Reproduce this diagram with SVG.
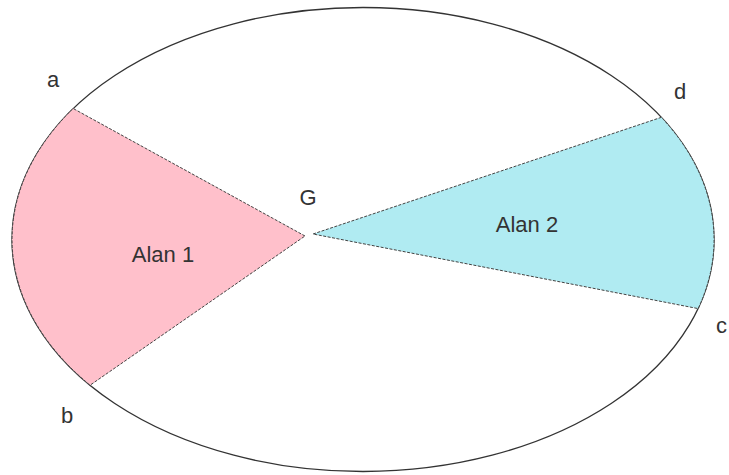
<svg xmlns="http://www.w3.org/2000/svg" width="729" height="475" viewBox="0 0 729 475">
<style>
text{font-family:"Liberation Sans",Arial,sans-serif;font-size:22px;fill:#333}
.w{stroke:#444;stroke-width:1;stroke-dasharray:3 1.5}
</style>
<rect width="729" height="475" fill="#fff"/>
<g id="ellipse">
<ellipse cx="363" cy="239.5" rx="351" ry="232" fill="none" stroke="#333" stroke-width="1.3"/>
</g>
<g id="alan1">
<path class="w" d="M305,236 L73.2,108.5 A351,232 0 0 0 90.1,385.2 Z" fill="#FFC0CB"/>
<text x="163" y="262" text-anchor="middle">Alan 1</text>
</g>
<g id="alan2">
<path class="w" d="M313,234 L661.4,117.3 A351,232 0 0 1 698.1,308.6 Z" fill="#B0EBF2"/>
<text x="527" y="232" text-anchor="middle">Alan 2</text>
</g>
<g id="labels">
<text x="308" y="205" text-anchor="middle">G</text>
<text x="53" y="87" text-anchor="middle">a</text>
<text x="67" y="423" text-anchor="middle">b</text>
<text x="680" y="99" text-anchor="middle">d</text>
<text x="716" y="333">c</text>
</g>
</svg>
